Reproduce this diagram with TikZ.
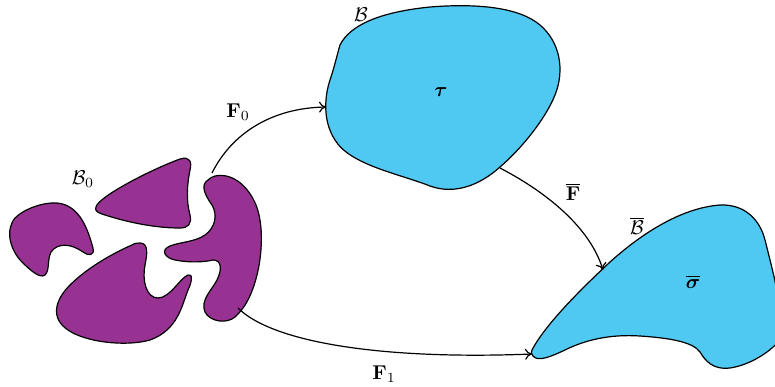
\documentclass[tikz,border=0pt]{standalone}
\usepackage{amsmath,bm}
\usetikzlibrary{arrows.meta}
\definecolor{bodypurple}{RGB}{152,50,146}
\definecolor{bodyblue}{RGB}{79,200,242}
\begin{document}
\begin{tikzpicture}[x=0.5pt,y=-0.5pt,
  pbody/.style={fill=bodypurple,draw=black,line width=0.6pt},
  bbody/.style={fill=bodyblue,draw=black,line width=0.6pt},
  mapto/.style={-{To[length=3.5pt,width=5.5pt]},line width=0.6pt},
  lbl/.style={inner sep=0pt}]
\useasboundingbox (0,0) rectangle (775,386);
\clip (0,0) rectangle (775,386);
% reference configuration B0
\draw[pbody] (57,203) .. controls (80,205) and (88,230) .. (93,248)
  .. controls (95,256) and (88,256) .. (83,252)
  .. controls (72,244) and (58,242) .. (51,252)
  .. controls (47,260) and (50,270) .. (45,275)
  .. controls (40,279) and (30,270) .. (22,262)
  .. controls (10,250) and (5,230) .. (15,218)
  .. controls (25,208) and (45,202) .. (57,203) -- cycle;
\draw[pbody] (96,207) .. controls (98,197) and (150,170) .. (180,159)
  .. controls (190,156) and (192,162) .. (190,170)
  .. controls (187,185) and (186,200) .. (190,215)
  .. controls (192,224) and (188,228) .. (180,228)
  .. controls (150,228) and (120,220) .. (102,214)
  .. controls (96,212) and (95,210) .. (96,207) -- cycle;
\draw[pbody] (140,243) .. controls (149,243) and (147,255) .. (145,265)
  .. controls (142,280) and (146,298) .. (158,298)
  .. controls (170,298) and (180,278) .. (188,275)
  .. controls (193,273) and (192,282) .. (188,290)
  .. controls (182,305) and (178,330) .. (150,340)
  .. controls (125,347) and (85,342) .. (68,330)
  .. controls (50,318) and (55,300) .. (70,285)
  .. controls (90,265) and (120,250) .. (132,245)
  .. controls (135,243) and (138,243) .. (140,243) -- cycle;
\draw[pbody] (215,176) .. controls (235,172) and (250,190) .. (256,205)
  .. controls (264,225) and (262,255) .. (257,275)
  .. controls (252,295) and (245,308) .. (235,317)
  .. controls (227,324) and (210,322) .. (205,312)
  .. controls (200,300) and (212,290) .. (217,280)
  .. controls (222,270) and (222,260) .. (213,260)
  .. controls (205,262) and (190,263) .. (175,260)
  .. controls (165,258) and (160,250) .. (170,246)
  .. controls (180,242) and (195,242) .. (205,235)
  .. controls (215,228) and (218,215) .. (212,205)
  .. controls (205,195) and (200,185) .. (208,180)
  .. controls (210,178) and (212,177) .. (215,176) -- cycle;
% intermediate configuration B
\draw[bbody] (340,45) .. controls (350,25) and (380,12) .. (430,7)
  .. controls (480,3) and (520,8) .. (540,25)
  .. controls (560,42) and (565,70) .. (555,95)
  .. controls (545,120) and (520,150) .. (500,167)
  .. controls (480,185) and (455,195) .. (430,186)
  .. controls (400,174) and (350,165) .. (335,140)
  .. controls (322,120) and (325,95) .. (330,80)
  .. controls (335,65) and (337,55) .. (340,45) -- cycle;
% current configuration Bbar
\draw[bbody] (532,350) .. controls (545,325) and (580,290) .. (610,262)
  .. controls (640,235) and (680,208) .. (720,205)
  .. controls (745,204) and (760,220) .. (765,240)
  .. controls (770,260) and (778,290) .. (780,310)
  -- (780,340)
  .. controls (770,352) and (750,365) .. (730,368)
  .. controls (712,370) and (705,360) .. (700,352)
  .. controls (693,342) and (670,338) .. (640,336)
  .. controls (610,334) and (585,340) .. (565,350)
  .. controls (550,357) and (538,362) .. (533,356)
  .. controls (531,354) and (531,352) .. (532,350) -- cycle;
% labels
\node[lbl] (lB0) at (83,179) {$\mathcal{B}_0$};
\node[lbl] (lB) at (361,15) {$\mathcal{B}$};
\node[lbl] (lBb) at (637,226) {$\overline{\mathcal{B}}$};
\node[lbl] (tau) at (441,92) {$\bm{\tau}$};
\node[lbl] (sig) at (693,282) {$\overline{\bm{\sigma}}$};
\node[lbl] (lF0) at (238,112) {$\mathbf{F}_0$};
\node[lbl] (lFb) at (573,192) {$\overline{\mathbf{F}}$};
\node[lbl] (lF1) at (384,374) {$\mathbf{F}_1$};
% connector ends
\coordinate (s0) at (212,173);
\coordinate (e0) at (326,107);
\coordinate (sb) at (500,168);
\coordinate (eb) at (603,270);
\coordinate (s1) at (238,308);
\coordinate (e1) at (532,354);
\draw[mapto] (s0) .. controls (232,133) and (272,108) .. (e0);
\draw[mapto] (sb) .. controls (548,193) and (590,228) .. (eb);
\draw[mapto] (s1) .. controls (272,342) and (380,360) .. (e1);
\end{tikzpicture}
\end{document}
